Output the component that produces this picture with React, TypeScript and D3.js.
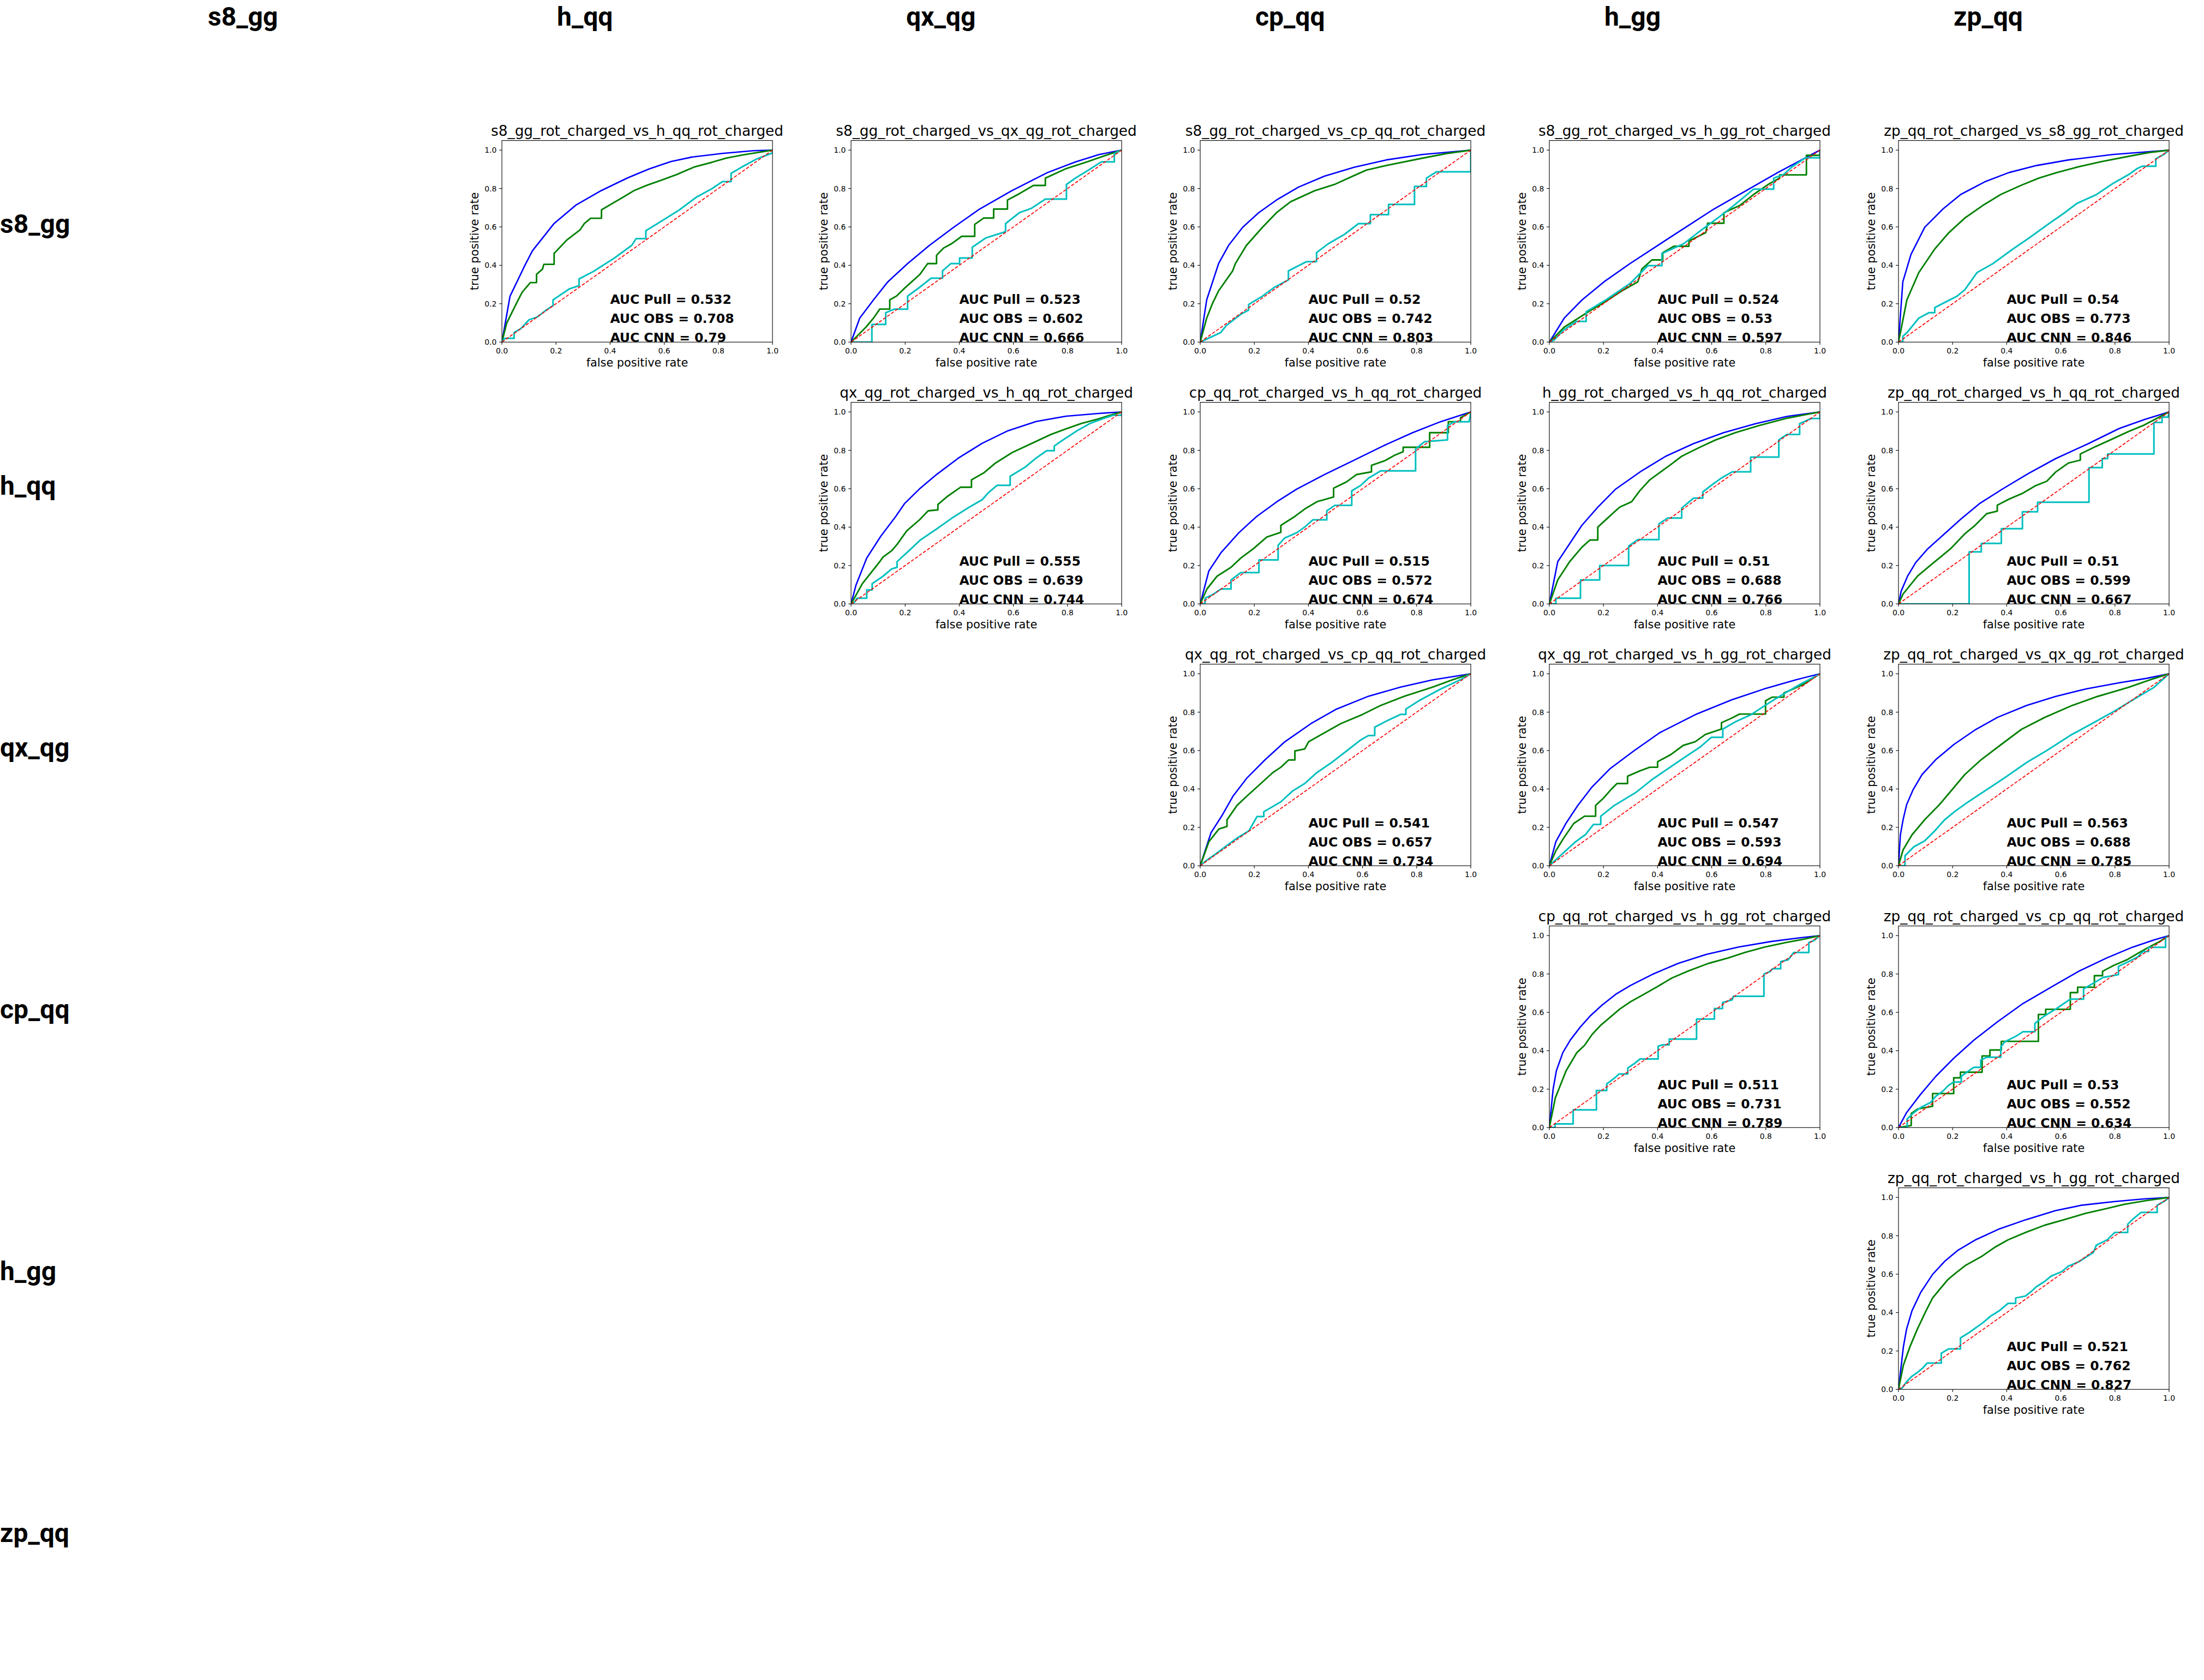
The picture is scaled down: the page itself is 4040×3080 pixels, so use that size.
import React from "react";
import * as d3 from "d3";

const categories = ["s8_gg", "h_qq", "qx_qg", "cp_qq", "h_gg", "zp_qq"];
const tickValues = [0, 0.2, 0.4, 0.6, 0.8, 1.0];

// [row, col] of every ROC panel in the grid
const panelCells = [
  [0, 1], [0, 2], [0, 3], [0, 4], [0, 5],
  [1, 2], [1, 3], [1, 4], [1, 5],
  [2, 3], [2, 4], [2, 5],
  [3, 4], [3, 5],
  [4, 5],
];

const panelTitles = [
  "s8_gg_rot_charged_vs_h_qq_rot_charged",
  "s8_gg_rot_charged_vs_qx_qg_rot_charged",
  "s8_gg_rot_charged_vs_cp_qq_rot_charged",
  "s8_gg_rot_charged_vs_h_gg_rot_charged",
  "zp_qq_rot_charged_vs_s8_gg_rot_charged",
  "qx_qg_rot_charged_vs_h_qq_rot_charged",
  "cp_qq_rot_charged_vs_h_qq_rot_charged",
  "h_gg_rot_charged_vs_h_qq_rot_charged",
  "zp_qq_rot_charged_vs_h_qq_rot_charged",
  "qx_qg_rot_charged_vs_cp_qq_rot_charged",
  "qx_qg_rot_charged_vs_h_gg_rot_charged",
  "zp_qq_rot_charged_vs_qx_qg_rot_charged",
  "cp_qq_rot_charged_vs_h_gg_rot_charged",
  "zp_qq_rot_charged_vs_cp_qq_rot_charged",
  "zp_qq_rot_charged_vs_h_gg_rot_charged",
];

const aucPull = [0.532, 0.523, 0.52, 0.524, 0.54, 0.555, 0.515, 0.51, 0.51, 0.541, 0.547, 0.563, 0.511, 0.53, 0.521];
const aucObs = [0.708, 0.602, 0.742, 0.53, 0.773, 0.639, 0.572, 0.688, 0.599, 0.657, 0.593, 0.688, 0.731, 0.552, 0.762];
const aucCnn = [0.79, 0.666, 0.803, 0.597, 0.846, 0.744, 0.674, 0.766, 0.667, 0.734, 0.694, 0.785, 0.789, 0.634, 0.827];

// ROC points [fpr, tpr]
const cnn01 = [[0,0],[0.03,0.239],[0.085,0.4],[0.113,0.476],[0.193,0.618],[0.273,0.713],[0.367,0.789],[0.464,0.855],[0.544,0.902],[0.624,0.94],[0.703,0.964],[0.815,0.983],[0.93,0.997],[1,1]];
const obs01 = [[0,0],[0.018,0.1],[0.053,0.2],[0.075,0.26],[0.105,0.31],[0.128,0.31],[0.128,0.353],[0.15,0.38],[0.155,0.405],[0.193,0.405],[0.193,0.462],[0.241,0.533],[0.289,0.585],[0.305,0.618],[0.328,0.645],[0.368,0.645],[0.368,0.689],[0.408,0.722],[0.448,0.755],[0.488,0.789],[0.536,0.817],[0.592,0.845],[0.648,0.874],[0.679,0.893],[0.711,0.912],[0.775,0.936],[0.831,0.959],[0.895,0.976],[1,1]];
const pull01 = [[0,0],[0.01,0.02],[0.045,0.02],[0.045,0.05],[0.07,0.07],[0.1,0.116],[0.13,0.13],[0.16,0.163],[0.189,0.19],[0.189,0.22],[0.249,0.277],[0.285,0.294],[0.285,0.329],[0.337,0.367],[0.416,0.438],[0.48,0.504],[0.496,0.539],[0.532,0.539],[0.532,0.58],[0.608,0.646],[0.656,0.689],[0.719,0.755],[0.775,0.798],[0.815,0.836],[0.847,0.836],[0.847,0.879],[0.887,0.912],[0.943,0.955],[1,0.985],[1,1]];

const cnn02 = [[0,0],[0.032,0.125],[0.083,0.22],[0.136,0.314],[0.209,0.409],[0.29,0.504],[0.379,0.598],[0.475,0.693],[0.593,0.788],[0.726,0.883],[0.83,0.939],[0.917,0.977],[1,1]];
const obs02 = [[0,0],[0.055,0.078],[0.083,0.125],[0.106,0.172],[0.143,0.172],[0.143,0.22],[0.168,0.24],[0.195,0.277],[0.224,0.314],[0.254,0.352],[0.283,0.409],[0.316,0.409],[0.316,0.452],[0.342,0.49],[0.372,0.513],[0.409,0.551],[0.457,0.551],[0.457,0.613],[0.49,0.646],[0.527,0.646],[0.527,0.693],[0.578,0.693],[0.578,0.74],[0.622,0.773],[0.674,0.816],[0.718,0.816],[0.718,0.854],[0.792,0.902],[0.873,0.939],[0.932,0.968],[1,1]];
const pull02 = [[0,0],[0.077,0],[0.077,0.092],[0.128,0.092],[0.128,0.153],[0.16,0.172],[0.209,0.172],[0.209,0.239],[0.254,0.286],[0.296,0.333],[0.338,0.333],[0.338,0.371],[0.369,0.409],[0.401,0.409],[0.401,0.438],[0.448,0.438],[0.448,0.494],[0.497,0.542],[0.571,0.575],[0.571,0.617],[0.622,0.674],[0.667,0.697],[0.718,0.745],[0.796,0.745],[0.796,0.821],[0.829,0.854],[0.873,0.892],[0.925,0.939],[0.973,0.939],[0.973,0.982],[1,1]];

const cnn03 = [[0,0],[0.024,0.22],[0.068,0.409],[0.105,0.504],[0.157,0.598],[0.216,0.674],[0.282,0.74],[0.363,0.807],[0.459,0.864],[0.57,0.911],[0.688,0.949],[0.821,0.977],[1,1]];
const obs03 = [[0,0],[0.024,0.125],[0.045,0.2],[0.068,0.267],[0.12,0.371],[0.13,0.409],[0.171,0.504],[0.23,0.598],[0.282,0.674],[0.334,0.731],[0.422,0.788],[0.496,0.821],[0.563,0.864],[0.614,0.896],[0.688,0.92],[0.821,0.958],[0.91,0.982],[1,1]];
const pull03 = [[0,0],[0.075,0.049],[0.097,0.087],[0.149,0.144],[0.179,0.167],[0.179,0.196],[0.23,0.239],[0.275,0.286],[0.326,0.324],[0.326,0.371],[0.393,0.419],[0.43,0.419],[0.43,0.466],[0.474,0.513],[0.533,0.561],[0.585,0.617],[0.629,0.617],[0.629,0.664],[0.696,0.664],[0.696,0.717],[0.792,0.717],[0.792,0.811],[0.836,0.811],[0.836,0.854],[0.873,0.887],[1,0.887],[1,1]];

const cnn04 = [[0,0],[0.055,0.125],[0.121,0.22],[0.202,0.314],[0.298,0.409],[0.401,0.504],[0.504,0.598],[0.608,0.693],[0.726,0.788],[0.844,0.883],[0.932,0.949],[1,1]];
const obs04 = [[0,0],[0.055,0.078],[0.15,0.163],[0.195,0.2],[0.268,0.267],[0.327,0.314],[0.342,0.381],[0.379,0.428],[0.419,0.428],[0.419,0.466],[0.46,0.499],[0.516,0.499],[0.516,0.527],[0.578,0.57],[0.585,0.619],[0.645,0.619],[0.645,0.674],[0.704,0.712],[0.755,0.769],[0.814,0.826],[0.851,0.854],[0.851,0.871],[0.95,0.871],[0.95,0.973],[1,0.973],[1,1]];
const pull04 = [[0,0],[0.018,0.011],[0.05,0.06],[0.1,0.108],[0.136,0.108],[0.136,0.158],[0.209,0.22],[0.298,0.305],[0.364,0.398],[0.416,0.398],[0.416,0.461],[0.497,0.513],[0.549,0.57],[0.622,0.646],[0.682,0.712],[0.755,0.797],[0.829,0.797],[0.829,0.854],[0.866,0.873],[0.895,0.911],[0.947,0.96],[1,0.96],[1,1]];

const cnn05 = [[0,0],[0.016,0.314],[0.046,0.456],[0.097,0.598],[0.164,0.693],[0.23,0.769],[0.319,0.835],[0.408,0.883],[0.511,0.92],[0.629,0.949],[0.792,0.977],[1,1]];
const obs05 = [[0,0],[0.031,0.22],[0.075,0.362],[0.134,0.485],[0.186,0.57],[0.245,0.646],[0.312,0.712],[0.378,0.769],[0.452,0.816],[0.518,0.854],[0.585,0.883],[0.659,0.911],[0.747,0.939],[0.851,0.968],[0.925,0.987],[1,1]];
const pull05 = [[0,0],[0.016,0],[0.016,0.03],[0.031,0.049],[0.075,0.125],[0.112,0.153],[0.134,0.153],[0.134,0.18],[0.216,0.239],[0.245,0.272],[0.29,0.362],[0.349,0.409],[0.423,0.485],[0.482,0.542],[0.556,0.617],[0.614,0.674],[0.659,0.722],[0.732,0.769],[0.792,0.826],[0.851,0.873],[0.88,0.902],[0.9,0.916],[0.951,0.916],[0.951,0.955],[0.98,0.977],[1,1]];

const cnn12 = [[0,0],[0.018,0.097],[0.058,0.239],[0.11,0.353],[0.166,0.457],[0.198,0.523],[0.253,0.599],[0.317,0.675],[0.397,0.76],[0.484,0.836],[0.58,0.902],[0.684,0.95],[0.795,0.978],[0.915,0.992],[1,1]];
const obs12 = [[0,0],[0.042,0.106],[0.106,0.22],[0.118,0.244],[0.15,0.277],[0.17,0.31],[0.206,0.381],[0.253,0.438],[0.285,0.485],[0.321,0.49],[0.321,0.518],[0.357,0.561],[0.405,0.608],[0.445,0.608],[0.445,0.646],[0.492,0.684],[0.532,0.732],[0.596,0.789],[0.668,0.836],[0.739,0.883],[0.795,0.912],[0.851,0.94],[0.915,0.964],[0.97,0.988],[1,1]];
const pull12 = [[0,0],[0.014,0.011],[0.022,0.03],[0.058,0.03],[0.058,0.073],[0.078,0.073],[0.078,0.106],[0.118,0.144],[0.15,0.182],[0.17,0.191],[0.17,0.22],[0.214,0.277],[0.257,0.334],[0.317,0.391],[0.373,0.447],[0.437,0.504],[0.484,0.542],[0.508,0.58],[0.54,0.618],[0.588,0.618],[0.588,0.665],[0.644,0.713],[0.684,0.76],[0.723,0.798],[0.751,0.798],[0.751,0.822],[0.779,0.85],[0.835,0.902],[0.883,0.94],[0.939,0.969],[0.97,0.983],[1,0.983],[1,1]];

const cnn13 = [[0,0],[0.032,0.172],[0.077,0.267],[0.143,0.371],[0.209,0.456],[0.283,0.532],[0.357,0.598],[0.46,0.674],[0.571,0.75],[0.681,0.826],[0.785,0.892],[0.888,0.949],[1,1]];
const obs13 = [[0,0],[0.025,0.078],[0.062,0.144],[0.114,0.191],[0.15,0.239],[0.195,0.286],[0.246,0.348],[0.298,0.373],[0.298,0.409],[0.35,0.456],[0.386,0.494],[0.431,0.532],[0.493,0.557],[0.493,0.603],[0.541,0.636],[0.578,0.674],[0.633,0.688],[0.633,0.722],[0.681,0.745],[0.718,0.774],[0.75,0.793],[0.75,0.816],[0.848,0.816],[0.848,0.892],[0.917,0.892],[0.917,0.949],[0.962,0.949],[0.962,0.97],[1,1]];
const pull13 = [[0,0],[0.018,0],[0.018,0.03],[0.047,0.049],[0.077,0.078],[0.114,0.078],[0.114,0.125],[0.15,0.163],[0.217,0.163],[0.217,0.229],[0.288,0.229],[0.288,0.305],[0.312,0.343],[0.357,0.371],[0.386,0.4],[0.416,0.438],[0.468,0.438],[0.468,0.485],[0.497,0.513],[0.56,0.513],[0.56,0.589],[0.593,0.617],[0.622,0.655],[0.667,0.693],[0.796,0.693],[0.796,0.807],[0.829,0.845],[0.914,0.854],[0.914,0.929],[0.94,0.949],[0.994,0.949],[1,1]];

const cnn14 = [[0,0],[0.031,0.22],[0.075,0.314],[0.12,0.409],[0.179,0.504],[0.245,0.598],[0.341,0.693],[0.43,0.769],[0.533,0.835],[0.644,0.892],[0.762,0.939],[0.88,0.977],[1,1]];
const obs14 = [[0,0],[0.031,0.125],[0.075,0.22],[0.12,0.295],[0.15,0.333],[0.179,0.333],[0.179,0.4],[0.23,0.466],[0.26,0.504],[0.304,0.532],[0.334,0.589],[0.371,0.646],[0.408,0.684],[0.445,0.722],[0.489,0.769],[0.556,0.816],[0.614,0.854],[0.688,0.892],[0.777,0.93],[0.88,0.968],[1,1]];
const pull14 = [[0,0],[0.024,0],[0.024,0.03],[0.115,0.03],[0.115,0.125],[0.186,0.125],[0.186,0.2],[0.293,0.2],[0.293,0.301],[0.327,0.335],[0.405,0.335],[0.405,0.417],[0.437,0.447],[0.489,0.447],[0.489,0.499],[0.533,0.551],[0.567,0.551],[0.567,0.583],[0.598,0.617],[0.635,0.655],[0.676,0.688],[0.744,0.688],[0.744,0.765],[0.848,0.765],[0.848,0.854],[0.878,0.883],[0.925,0.883],[0.925,0.939],[0.968,0.966],[1,0.966],[1,1]];

const cnn15 = [[0,0],[0.01,0.067],[0.034,0.146],[0.064,0.216],[0.108,0.287],[0.158,0.35],[0.232,0.444],[0.299,0.522],[0.386,0.6],[0.48,0.679],[0.581,0.757],[0.702,0.835],[0.816,0.914],[0.91,0.961],[1,1]];
const obs15 = [[0,0],[0.017,0.052],[0.044,0.099],[0.071,0.146],[0.124,0.208],[0.192,0.287],[0.245,0.365],[0.279,0.404],[0.326,0.47],[0.365,0.483],[0.365,0.514],[0.407,0.545],[0.46,0.577],[0.507,0.616],[0.548,0.639],[0.581,0.687],[0.628,0.734],[0.672,0.749],[0.672,0.781],[0.729,0.82],[0.79,0.859],[0.85,0.898],[0.904,0.929],[0.958,0.969],[1,1]];
const pull15 = [[0,0],[0.261,0],[0.261,0.271],[0.306,0.271],[0.306,0.315],[0.38,0.315],[0.38,0.392],[0.458,0.392],[0.458,0.48],[0.514,0.48],[0.514,0.53],[0.704,0.53],[0.704,0.71],[0.753,0.71],[0.753,0.757],[0.773,0.757],[0.773,0.781],[0.944,0.781],[0.944,0.945],[0.974,0.945],[0.974,0.973],[0.996,0.973],[1,1]];

const cnn23 = [[0,0],[0.04,0.172],[0.083,0.267],[0.121,0.362],[0.172,0.456],[0.239,0.551],[0.313,0.646],[0.409,0.74],[0.504,0.816],[0.622,0.883],[0.74,0.93],[0.858,0.968],[1,1]];
const obs23 = [[0,0],[0.032,0.125],[0.069,0.191],[0.099,0.205],[0.099,0.239],[0.136,0.314],[0.172,0.362],[0.224,0.428],[0.268,0.485],[0.298,0.513],[0.327,0.551],[0.35,0.551],[0.35,0.598],[0.386,0.608],[0.401,0.646],[0.46,0.693],[0.519,0.74],[0.6,0.788],[0.667,0.835],[0.755,0.883],[0.858,0.93],[0.932,0.968],[1,1]];
const pull23 = [[0,0],[0.025,0.03],[0.055,0.059],[0.099,0.106],[0.136,0.144],[0.18,0.182],[0.21,0.256],[0.235,0.256],[0.235,0.281],[0.298,0.333],[0.342,0.39],[0.386,0.428],[0.431,0.485],[0.49,0.542],[0.541,0.598],[0.593,0.655],[0.622,0.678],[0.645,0.678],[0.645,0.722],[0.696,0.759],[0.74,0.788],[0.76,0.788],[0.76,0.816],[0.814,0.864],[0.888,0.92],[0.961,0.968],[1,1]];

const cnn24 = [[0,0],[0.024,0.125],[0.061,0.22],[0.105,0.314],[0.157,0.409],[0.223,0.504],[0.312,0.598],[0.408,0.693],[0.541,0.788],[0.674,0.864],[0.792,0.92],[0.91,0.968],[1,1]];
const obs24 = [[0,0],[0.024,0.078],[0.053,0.144],[0.09,0.22],[0.13,0.258],[0.171,0.258],[0.171,0.314],[0.2,0.352],[0.23,0.4],[0.25,0.428],[0.289,0.428],[0.289,0.466],[0.334,0.494],[0.371,0.513],[0.4,0.513],[0.4,0.542],[0.449,0.579],[0.495,0.627],[0.539,0.646],[0.577,0.684],[0.636,0.712],[0.636,0.745],[0.674,0.769],[0.703,0.79],[0.799,0.79],[0.799,0.859],[0.823,0.878],[0.867,0.878],[0.867,0.9],[0.9,0.92],[0.945,0.949],[1,1]];
const pull24 = [[0,0],[0.038,0.049],[0.097,0.125],[0.134,0.163],[0.163,0.215],[0.19,0.215],[0.19,0.258],[0.24,0.314],[0.319,0.381],[0.378,0.447],[0.437,0.504],[0.496,0.561],[0.556,0.617],[0.599,0.669],[0.641,0.669],[0.641,0.712],[0.688,0.75],[0.747,0.788],[0.792,0.83],[0.83,0.864],[0.88,0.907],[0.932,0.949],[0.984,0.987],[1,1]];

const cnn25 = [[0,0],[0.007,0.161],[0.017,0.24],[0.03,0.318],[0.054,0.396],[0.087,0.475],[0.138,0.553],[0.205,0.632],[0.286,0.71],[0.366,0.773],[0.474,0.835],[0.581,0.882],[0.696,0.922],[0.816,0.953],[0.917,0.976],[1,1]];
const obs25 = [[0,0],[0.017,0.083],[0.05,0.161],[0.097,0.24],[0.151,0.318],[0.198,0.396],[0.245,0.475],[0.306,0.553],[0.38,0.632],[0.454,0.71],[0.541,0.773],[0.642,0.835],[0.736,0.882],[0.85,0.929],[0.931,0.969],[1,1]];
const pull25 = [[0,0],[0.024,0],[0.024,0.052],[0.057,0.099],[0.097,0.13],[0.131,0.177],[0.171,0.24],[0.212,0.287],[0.259,0.334],[0.326,0.396],[0.393,0.459],[0.474,0.538],[0.548,0.6],[0.635,0.679],[0.716,0.741],[0.796,0.804],[0.87,0.867],[0.944,0.929],[1,1]];

const cnn34 = [[0,0],[0.014,0.201],[0.026,0.296],[0.05,0.391],[0.078,0.457],[0.114,0.523],[0.15,0.58],[0.194,0.637],[0.245,0.694],[0.301,0.741],[0.381,0.798],[0.476,0.855],[0.58,0.902],[0.699,0.94],[0.819,0.969],[0.923,0.988],[1,1]];
const obs34 = [[0,0],[0.022,0.154],[0.062,0.296],[0.102,0.391],[0.13,0.428],[0.158,0.485],[0.19,0.533],[0.229,0.58],[0.261,0.618],[0.301,0.656],[0.349,0.694],[0.397,0.732],[0.453,0.779],[0.516,0.817],[0.588,0.855],[0.66,0.883],[0.723,0.912],[0.795,0.94],[0.875,0.964],[0.947,0.983],[1,1]];
const pull34 = [[0,0],[0.021,0],[0.021,0.019],[0.088,0.019],[0.088,0.092],[0.174,0.092],[0.174,0.193],[0.212,0.193],[0.212,0.227],[0.228,0.244],[0.241,0.258],[0.258,0.279],[0.29,0.279],[0.29,0.31],[0.313,0.332],[0.335,0.357],[0.402,0.357],[0.402,0.424],[0.421,0.431],[0.443,0.431],[0.443,0.461],[0.544,0.461],[0.544,0.565],[0.61,0.565],[0.61,0.62],[0.64,0.62],[0.64,0.651],[0.676,0.665],[0.68,0.684],[0.793,0.684],[0.793,0.8],[0.815,0.812],[0.825,0.827],[0.855,0.827],[0.855,0.864],[0.883,0.874],[0.903,0.912],[0.959,0.912],[0.959,0.964],[0.978,0.974],[1,1]];

const cnn35 = [[0,0],[0.03,0.078],[0.081,0.172],[0.138,0.267],[0.205,0.362],[0.279,0.456],[0.366,0.551],[0.46,0.646],[0.575,0.74],[0.669,0.816],[0.769,0.883],[0.864,0.939],[0.944,0.977],[1,1]];
const obs35 = [[0,0],[0.047,0.011],[0.047,0.073],[0.071,0.097],[0.126,0.111],[0.126,0.177],[0.204,0.177],[0.204,0.259],[0.229,0.259],[0.229,0.288],[0.309,0.288],[0.309,0.373],[0.338,0.373],[0.338,0.404],[0.38,0.404],[0.38,0.449],[0.517,0.449],[0.517,0.589],[0.544,0.589],[0.544,0.616],[0.635,0.616],[0.635,0.703],[0.662,0.703],[0.662,0.731],[0.724,0.731],[0.724,0.791],[0.754,0.791],[0.754,0.814],[0.796,0.845],[0.843,0.873],[0.884,0.907],[0.924,0.939],[0.964,0.968],[1,1]];
const pull35 = [[0,0],[0.032,0],[0.032,0.045],[0.057,0.078],[0.084,0.106],[0.118,0.13],[0.138,0.163],[0.165,0.191],[0.185,0.22],[0.204,0.237],[0.232,0.237],[0.232,0.267],[0.259,0.295],[0.279,0.314],[0.304,0.314],[0.304,0.352],[0.326,0.366],[0.378,0.366],[0.378,0.419],[0.393,0.447],[0.433,0.475],[0.46,0.499],[0.504,0.499],[0.504,0.542],[0.528,0.57],[0.554,0.594],[0.581,0.617],[0.601,0.636],[0.635,0.669],[0.684,0.669],[0.684,0.722],[0.729,0.759],[0.756,0.782],[0.813,0.797],[0.813,0.84],[0.85,0.864],[0.884,0.889],[0.904,0.917],[0.924,0.917],[0.924,0.939],[0.987,0.939],[0.987,0.987],[1,1]];

const cnn45 = [[0,0],[0.018,0.221],[0.03,0.315],[0.05,0.41],[0.082,0.505],[0.126,0.599],[0.17,0.666],[0.218,0.723],[0.285,0.779],[0.373,0.836],[0.469,0.883],[0.58,0.931],[0.676,0.959],[0.795,0.978],[0.907,0.992],[1,1]];
const obs45 = [[0,0],[0.018,0.126],[0.042,0.221],[0.07,0.315],[0.102,0.41],[0.126,0.476],[0.154,0.524],[0.182,0.571],[0.214,0.609],[0.249,0.647],[0.309,0.694],[0.357,0.741],[0.405,0.779],[0.469,0.817],[0.54,0.855],[0.612,0.884],[0.692,0.917],[0.763,0.94],[0.835,0.964],[0.915,0.983],[1,1]];
const pull45 = [[0,0],[0.014,0.008],[0.03,0.04],[0.05,0.069],[0.07,0.088],[0.09,0.112],[0.106,0.137],[0.158,0.137],[0.158,0.188],[0.185,0.211],[0.229,0.211],[0.229,0.268],[0.261,0.296],[0.285,0.32],[0.309,0.344],[0.341,0.382],[0.373,0.41],[0.405,0.448],[0.433,0.448],[0.433,0.476],[0.469,0.486],[0.49,0.509],[0.508,0.533],[0.54,0.562],[0.564,0.59],[0.604,0.614],[0.628,0.642],[0.668,0.666],[0.72,0.713],[0.731,0.751],[0.771,0.779],[0.799,0.817],[0.847,0.817],[0.847,0.86],[0.867,0.888],[0.897,0.922],[0.956,0.922],[0.956,0.959],[0.986,0.983],[1,1]];

const cnnCurves = [cnn01, cnn02, cnn03, cnn04, cnn05, cnn12, cnn13, cnn14, cnn15, cnn23, cnn24, cnn25, cnn34, cnn35, cnn45];
const obsCurves = [obs01, obs02, obs03, obs04, obs05, obs12, obs13, obs14, obs15, obs23, obs24, obs25, obs34, obs35, obs45];
const pullCurves = [pull01, pull02, pull03, pull04, pull05, pull12, pull13, pull14, pull15, pull23, pull24, pull25, pull34, pull35, pull45];
const chance = [[0, 0], [1, 1]];

const W = 4040;
const H = 3080;
const gridLeft = 200;
const gridTop = 200;
const cellW = 640;
const cellH = 480;
const ax = { left: 80, top: 57.6, width: 496, height: 369.6 };
const FONT = "'DejaVu Sans', sans-serif";

const x = d3.scaleLinear([0, 1], [0, ax.width]);
const y = d3.scaleLinear([0, 1.05], [ax.height, 0]);
const line = d3.line<number[]>().x((d) => x(d[0])).y((d) => y(d[1]));
const fmt = d3.format(".1f");

function RocPanel({ i }: { i: number }) {
  const [r, c] = panelCells[i];
  const tx = gridLeft + c * cellW + ax.left;
  const ty = gridTop + r * cellH + ax.top;
  const clipId = `clip-${i}`;
  const aucLines = [
    { label: `AUC Pull = ${aucPull[i]}`, yv: 0.2 },
    { label: `AUC OBS = ${aucObs[i]}`, yv: 0.1 },
    { label: `AUC CNN = ${aucCnn[i]}`, yv: 0.0 },
  ];
  return (
    <g transform={`translate(${tx},${ty})`} fontFamily={FONT}>
      <clipPath id={clipId}>
        <rect x={0} y={0} width={ax.width} height={ax.height} />
      </clipPath>
      <g clipPath={`url(#${clipId})`} fill="none" strokeLinejoin="round">
        <path d={line(cnnCurves[i]) ?? ""} stroke="#0000ff" strokeWidth={2.6} />
        <path d={line(obsCurves[i]) ?? ""} stroke="#008000" strokeWidth={2.9} />
        <path d={line(pullCurves[i]) ?? ""} stroke="#00bfbf" strokeWidth={3} />
        <path d={line(chance) ?? ""} stroke="#ff0000" strokeWidth={1.7} strokeDasharray="6,3" />
      </g>
      {/* spines */}
      <rect x={0} y={0} width={ax.width} height={ax.height} fill="none" stroke="#000" strokeWidth={1.1} />
      {/* x ticks */}
      {tickValues.map((t) => (
        <g key={`x${t}`} transform={`translate(${x(t)},${ax.height})`}>
          <line y2={4.9} stroke="#000" strokeWidth={1.1} />
          <text y={20.5} textAnchor="middle" fontSize={13.9} fill="#000">{fmt(t)}</text>
        </g>
      ))}
      {/* y ticks */}
      {tickValues.map((t) => (
        <g key={`y${t}`} transform={`translate(0,${y(t)})`}>
          <line x2={-4.9} stroke="#000" strokeWidth={1.1} />
          <text x={-9.7} y={5} textAnchor="end" fontSize={13.9} fill="#000">{fmt(t)}</text>
        </g>
      ))}
      <text x={ax.width / 2} y={ax.height + 44.5} textAnchor="middle" fontSize={20.8} fill="#000">
        false positive rate
      </text>
      <text
        transform={`translate(-43,${ax.height / 2}) rotate(-90)`}
        textAnchor="middle"
        fontSize={20.8}
        fill="#000"
      >
        true positive rate
      </text>
      <text x={ax.width / 2} y={-9} textAnchor="middle" fontSize={26.3} fill="#000">
        {panelTitles[i]}
      </text>
      {aucLines.map((a) => (
        <text key={a.label} x={x(0.4)} y={y(a.yv)} fontSize={23.5} fontWeight="bold" fill="#000">
          {a.label}
        </text>
      ))}
    </g>
  );
}

export default function App() {
  return (
    <svg
      width={W}
      height={H}
      viewBox={`0 0 ${W} ${H}`}
      style={{ position: "absolute", left: 0, top: 0, background: "#fff" }}
    >
      <rect width={W} height={H} fill="#fff" />
      {categories.map((name, c) => (
        <text
          key={`col-${name}`}
          x={gridLeft + c * cellW + 181}
          y={47}
          fontFamily="Roboto, sans-serif"
          fontWeight="bold"
          fontSize={48}
          fill="#000"
        >
          {name}
        </text>
      ))}
      {categories.map((name, r) => (
        <text
          key={`row-${name}`}
          x={0}
          y={gridTop + r * cellH + 227}
          fontFamily="Roboto, sans-serif"
          fontWeight="bold"
          fontSize={48}
          fill="#000"
        >
          {name}
        </text>
      ))}
      {panelCells.map((_, i) => (
        <RocPanel key={i} i={i} />
      ))}
    </svg>
  );
}
